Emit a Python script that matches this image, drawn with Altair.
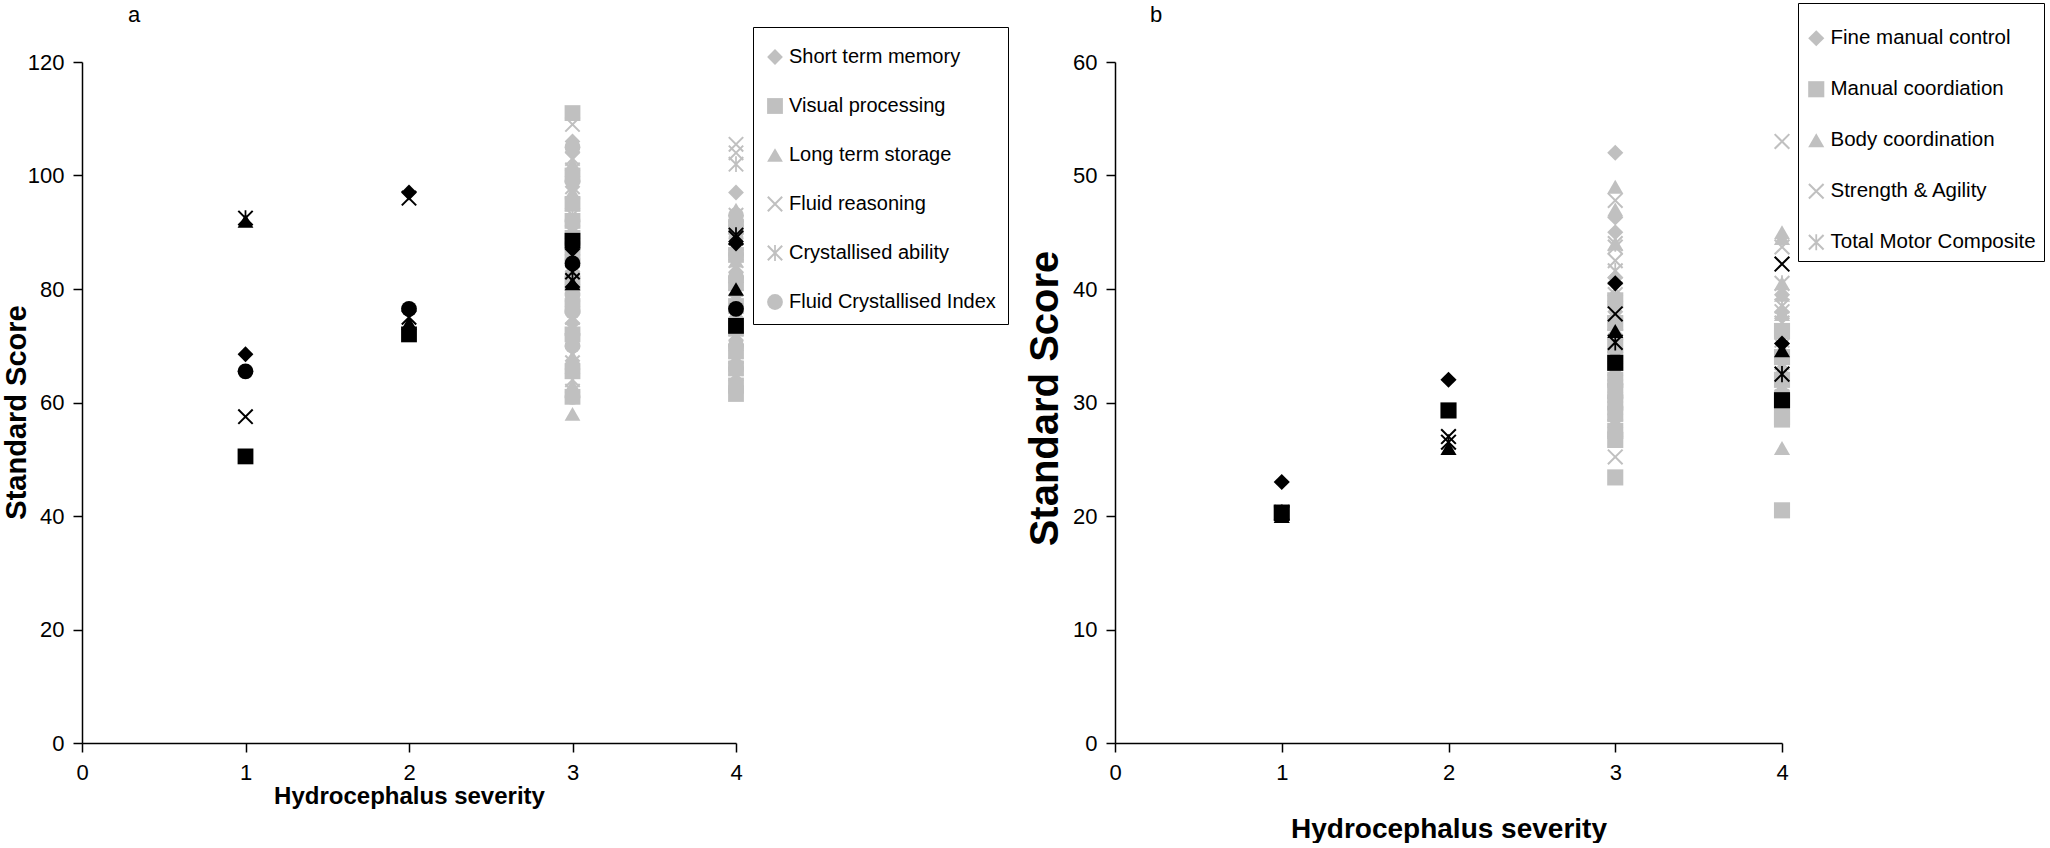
import altair as alt
import pandas as pd

# ---------------------------------------------------------------------------
# Data: standard scores by hydrocephalus severity.
# *_mean: group value at severity 1, 2, 3, 4 (drawn in black)
# *_s3 / *_s4: individual children at severity 3 and 4 (drawn in grey)
# ---------------------------------------------------------------------------
severity = [1, 2, 3, 4]

# (a) cognitive battery
cog_names = ["Short term memory", "Visual processing", "Long term storage",
             "Fluid reasoning", "Crystallised ability", "Fluid Crystallised Index"]

stm_mean = [68.5, 97.0, 87.0, 88.0]
vp_mean = [50.5, 72.0, 88.5, 73.5]
lts_mean = [92.0, 74.0, 81.0, 80.0]
fr_mean = [57.5, 96.0, 81.5, 89.0]
ca_mean = [92.5, 75.0, 83.0, 89.5]
fci_mean = [65.5, 76.5, 84.5, 76.5]

stm_s3 = [106, 104, 98, 96, 91, 86, 83, 78, 74, 70, 66]
vp_s3 = [111, 100, 95, 92, 89, 86, 81, 77, 72, 65.5, 61]
lts_s3 = [102, 97, 90, 87, 84, 80, 77, 73, 68, 63, 58]
fr_s3 = [109, 103, 95, 90, 86, 81, 78, 75, 71, 68.5, 64]
ca_s3 = [101, 98, 93, 88, 85, 82, 79, 75, 71, 67, 62]
fci_s3 = [105, 99, 92, 88, 85, 82, 79, 76, 72, 70, 61]

stm_s4 = [97, 92, 87, 83, 79, 75, 71, 67, 63]
vp_s4 = [91, 86, 81, 77, 73, 69, 66, 63, 61.5]
lts_s4 = [94, 87, 85, 81, 78, 74, 71, 67, 64]
fr_s4 = [105.5, 104, 90, 85, 80, 76, 72, 68, 65]
ca_s4 = [102, 93, 88, 84, 80, 76, 73, 69, 66]
fci_s4 = [93, 90, 86, 82, 77, 74, 70, 66, 62]

# (b) motor battery
mot_names = ["Fine manual control", "Manual coordiation", "Body coordination",
             "Strength & Agility", "Total Motor Composite"]

fmc_mean = [23.0, 32.0, 40.5, 35.2]
mc_mean = [20.3, 29.3, 33.5, 30.2]
bc_mean = [20.0, 26.0, 36.3, 34.6]
sa_mean = [20.2, 27.0, 37.8, 42.2]
tmc_mean = [20.3, 26.5, 35.3, 32.5]

fmc_s3 = [52, 46.3, 45, 41, 38, 36, 34.5, 32, 30, 28.5, 27]
mc_s3 = [39, 37, 35, 33.5, 32, 31, 30, 29, 27.5, 26.7, 23.4]
bc_s3 = [49, 47, 44, 41, 39, 37, 35, 33, 31.5, 30.2, 28]
sa_s3 = [47.8, 43.7, 42.5, 40, 37, 35, 33, 31, 29.5, 28.4, 25.2]
tmc_s3 = [44, 41.6, 39.5, 38, 36.5, 35, 34, 32.5, 31, 30, 29]

fmc_s4 = [39.5, 38, 36, 34, 32, 31, 29.5]
mc_s4 = [36.3, 34, 32, 30, 28.7, 28.5, 20.5]
bc_s4 = [45, 44.5, 40.5, 39.5, 37.8, 33, 26]
sa_s4 = [53, 43.7, 38, 35.5, 32, 30.5, 29]
tmc_s4 = [40.5, 38.5, 37, 35, 33.5, 31.5, 30]

# ---------------------------------------------------------------------------
# Marker shapes (Excel-like). X and asterisk are thin filled outlines.
# ---------------------------------------------------------------------------
X_PATH = ("M-1,-0.82L-0.82,-1L1,0.82L0.82,1Z "
          "M1,-0.82L-0.82,1L-1,0.82L0.82,-1Z")
AST_PATH = X_PATH + " M-0.11,-1L0.11,-1L0.11,1L-0.11,1Z"

cog_shapes = ["diamond", "square", "triangle-up", X_PATH, AST_PATH, "circle"]
mot_shapes = ["diamond", "square", "triangle-up", X_PATH, AST_PATH]

GREY = "#c0c0c0"
SANS = "Liberation Sans, Arial, sans-serif"


def build_frame(names, means, s3, s4):
    rows = []
    for sev, block in ((3, s3), (4, s4)):
        for name, vals in zip(names, block):
            for v in vals:
                rows.append({"series": name, "severity": sev, "score": v,
                             "group": "individual", "z": 0})
    for name, vals in zip(names, means):
        for sev, v in zip(severity, vals):
            rows.append({"series": name, "severity": sev, "score": v,
                         "group": "mean", "z": 1})
    return pd.DataFrame(rows)


cog_df = build_frame(
    cog_names,
    [stm_mean, vp_mean, lts_mean, fr_mean, ca_mean, fci_mean],
    [stm_s3, vp_s3, lts_s3, fr_s3, ca_s3, fci_s3],
    [stm_s4, vp_s4, lts_s4, fr_s4, ca_s4, fci_s4],
)
mot_df = build_frame(
    mot_names,
    [fmc_mean, mc_mean, bc_mean, sa_mean, tmc_mean],
    [fmc_s3, mc_s3, bc_s3, sa_s3, tmc_s3],
    [fmc_s4, mc_s4, bc_s4, sa_s4, tmc_s4],
)

PLOT_H = 681


def panel(df, names, shapes, ymax, ystep, letter, width, opts):
    pts = alt.Chart(df).mark_point(filled=True, opacity=1, size=opts["msize"]).encode(
        x=alt.X(
            "severity:Q",
            scale=alt.Scale(domain=[0, 4], nice=False),
            axis=alt.Axis(
                values=[0, 1, 2, 3, 4], format="d", tickSize=9, labelPadding=10,
                labelFont=SANS, labelFontSize=22, labelFlush=False,
                title="Hydrocephalus severity", titleFont=SANS,
                titleFontWeight="bold", titleFontSize=opts["xtitle_size"],
                titleBaseline="alphabetic", titleY=opts["xtitle_y"],
            ),
        ),
        y=alt.Y(
            "score:Q",
            scale=alt.Scale(domain=[0, ymax], nice=False),
            axis=alt.Axis(
                values=list(range(0, ymax + 1, ystep)), tickSize=9,
                labelPadding=9, labelFont=SANS, labelFontSize=22,
                labelFlush=False,
                title="Standard Score", titleFont=SANS, titleFontWeight="bold",
                titleFontSize=opts["ytitle_size"], titleBaseline="middle",
                titleX=opts["ytitle_x"], titleY=opts["ytitle_y"],
            ),
        ),
        shape=alt.Shape(
            "series:N",
            scale=alt.Scale(domain=names, range=shapes),
            legend=alt.Legend(
                title=" ", titleFontSize=1, titlePadding=opts["leg_top"],
                orient="none", direction="vertical",
                legendX=opts["leg_x"], legendY=opts["leg_y"],
                padding=opts["leg_pad"], rowPadding=opts["row_pad"],
                symbolSize=opts["msize"], symbolFillColor=GREY,
                symbolStrokeWidth=0, symbolOpacity=1,
                labelFont=SANS, labelFontSize=opts["leg_font"],
                labelColor="black", labelOffset=4, labelLimit=500,
                fillColor="white", strokeColor="black",
            ),
        ),
        color=alt.Color(
            "group:N",
            scale=alt.Scale(domain=["mean", "individual"], range=["#000000", GREY]),
            legend=None,
        ),
        order=alt.Order("z:Q"),
    )

    tag = alt.Chart(pd.DataFrame({"label": [letter]})).mark_text(
        font=SANS, fontSize=22, align="center", baseline="alphabetic", color="black"
    ).encode(
        text="label:N",
        x=alt.value(opts["tag_x"]),
        y=alt.value(-40.5),
    )

    return alt.layer(pts, tag).properties(width=width, height=PLOT_H)


left = panel(cog_df, cog_names, cog_shapes, 120, 20, "a", 654, {
    "msize": 250, "xtitle_size": 24, "xtitle_y": 60,
    "ytitle_size": 29, "ytitle_x": -66, "ytitle_y": 350,
    "leg_x": 671, "leg_y": -35, "leg_pad": 12, "row_pad": 29, "leg_font": 20,
    "leg_top": 7, "tag_x": 52,
})
right = panel(mot_df, mot_names, mot_shapes, 60, 10, "b", 667, {
    "msize": 260, "xtitle_size": 28, "xtitle_y": 94,
    "ytitle_size": 40, "ytitle_x": -70, "ytitle_y": 336,
    "leg_x": 683, "leg_y": -59, "leg_pad": 8, "row_pad": 30, "leg_font": 20.5,
    "leg_top": 16, "tag_x": 41,
})

chart = alt.hconcat(left, right, spacing=379, bounds="flush").resolve_scale(
    x="independent", y="independent", shape="independent", color="independent"
).resolve_legend(shape="independent").properties(
    padding={"left": 2, "top": 2, "right": 0, "bottom": 0},
    background="white",
).configure_axis(
    grid=False, domainColor="black", tickColor="black", domainWidth=1.5,
    tickWidth=1.5, labelColor="black", titleColor="black",
).configure_view(stroke=None)

chart.save("out.html", embed_options={"renderer": "svg", "actions": False})
